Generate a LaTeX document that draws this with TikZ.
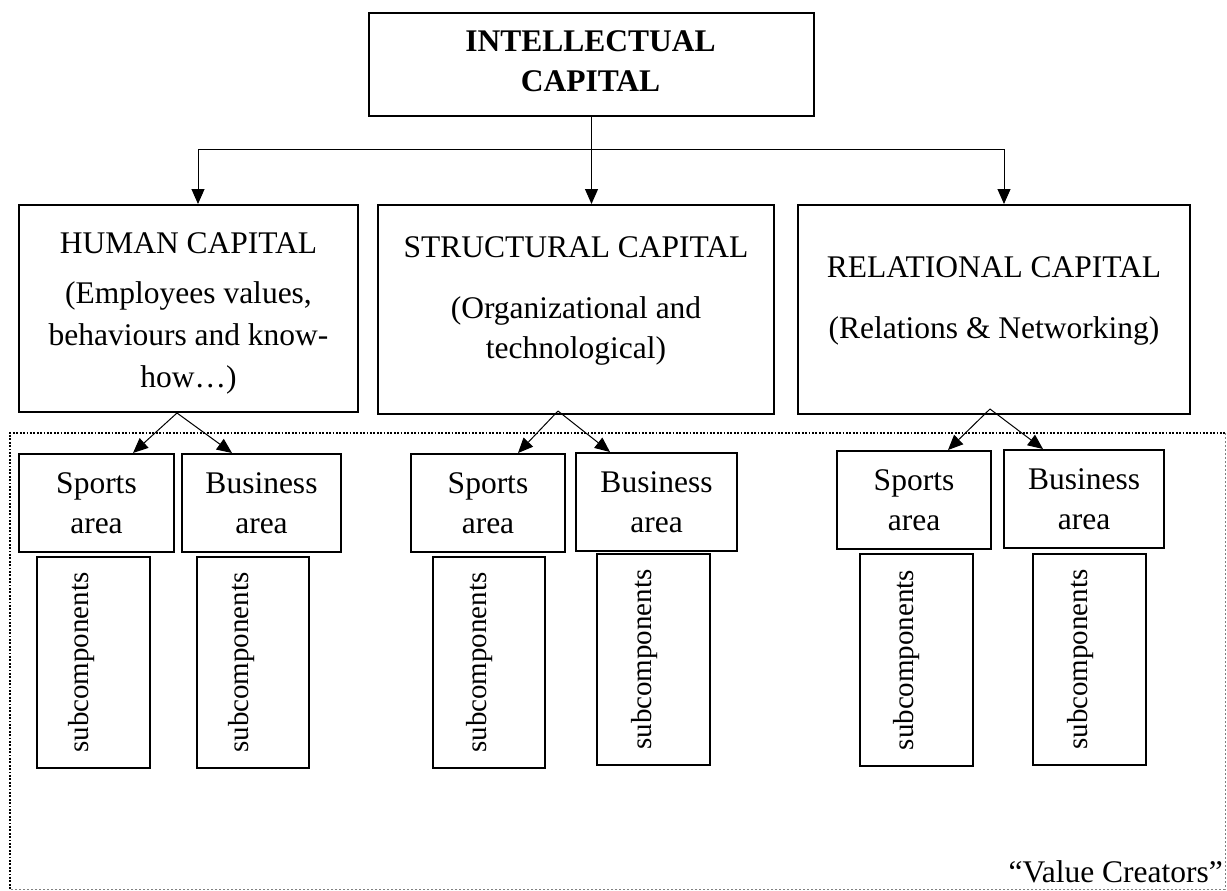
\documentclass[tikz,border=0pt]{standalone}
\usepackage{fontspec}
\setmainfont{Liberation Serif}
\usetikzlibrary{arrows.meta}
\begin{document}
\begin{tikzpicture}[x=1pt,y=-1pt,
  box/.style 2 args={draw, line width=2pt, inner sep=0pt, minimum width=#1, minimum height=#2},
  txt/.style={font=\fontsize{31.5}{40}\selectfont, inner sep=0pt, anchor=base},
  btxt/.style={font=\fontsize{31.5}{40}\selectfont\bfseries, inner sep=0pt, anchor=base},
  areatxt/.style={font=\fontsize{31.5}{40}\selectfont, align=center},
  subtxt/.style={font=\fontsize{29}{35}\selectfont, inner sep=0pt, rotate=90},
  conn/.style={line width=1pt, -{Triangle[length=15pt,width=13pt]}},
  plain/.style={line width=1pt},
  frameblack/.style={line width=1.8pt, dash pattern=on 1.8pt off 1.6pt},
  framegray/.style={line width=0.8pt, gray, dash pattern=on 2pt off 2pt}]
\useasboundingbox (0,0) rectangle (1227,891);

% dotted frame of the "Value Creators" area
\coordinate (ftl) at (10,433);
\coordinate (ftr) at (1225,433);
\coordinate (fbl) at (10,889);
\coordinate (fbr) at (1225,889);
\draw[frameblack] (fbl) -- (ftl) -- (ftr);
\draw[framegray] (ftr) -- (fbr) -- (fbl);

% top box
\node[box={445pt}{103pt}] (ic) at (591.5,64.5) {};
\node[btxt] (ic1) at (590.5,52) {INTELLECTUAL};
\node[btxt] (ic2) at (590.5,92) {CAPITAL};

% main capital boxes
\node[box={339pt}{207pt}] (hc) at (188.5,308.5) {};
\node[box={396pt}{209pt}] (sc) at (576,309.5) {};
\node[box={392pt}{209pt}] (rc) at (994,309.5) {};

\node[txt] (hc1) at (188.5,253) {HUMAN CAPITAL};
\node[txt] (hc2) at (188.5,303) {(Employees values,};
\node[txt] (hc3) at (188.5,345) {behaviours and know-};
\node[txt] (hc4) at (188.5,387) {how…)};

\node[txt] (sc1) at (576,257) {STRUCTURAL CAPITAL};
\node[txt] (sc2) at (576,318) {(Organizational and};
\node[txt] (sc3) at (576,358) {technological)};

\node[txt] (rc1) at (994,277) {RELATIONAL CAPITAL};
\node[txt] (rc2) at (994,338) {(Relations \& Networking)};

% area boxes
\node[box={155pt}{98pt}, areatxt] (sp1) at (96.5,503) {Sports\\area};
\node[box={159pt}{98pt}, areatxt] (bu1) at (261.5,503) {Business\\area};
\node[box={154pt}{98pt}, areatxt] (sp2) at (488,503) {Sports\\area};
\node[box={161pt}{98pt}, areatxt] (bu2) at (656.5,502) {Business\\area};
\node[box={154pt}{98pt}, areatxt] (sp3) at (914,500) {Sports\\area};
\node[box={160pt}{98pt}, areatxt] (bu3) at (1084,499) {Business\\area};

% subcomponent boxes
\node[box={113pt}{211pt}] (ss1) at (93.5,662.5) {};
\node[box={112pt}{211pt}] (bs1) at (253,662.5) {};
\node[box={112pt}{211pt}] (ss2) at (489,662.5) {};
\node[box={113pt}{211pt}] (bs2) at (653.5,659.5) {};
\node[box={113pt}{212pt}] (ss3) at (916.5,660) {};
\node[box={113pt}{211pt}] (bs3) at (1089.5,659.5) {};

\node[subtxt] (ss1t) at ([xshift=-12pt]ss1.center) {subcomponents};
\node[subtxt] (bs1t) at ([xshift=-11pt]bs1.center) {subcomponents};
\node[subtxt] (ss2t) at ([xshift=-9pt]ss2.center) {subcomponents};
\node[subtxt] (bs2t) at ([xshift=-9pt]bs2.center) {subcomponents};
\node[subtxt] (ss3t) at ([xshift=-10pt]ss3.center) {subcomponents};
\node[subtxt] (bs3t) at ([xshift=-9pt]bs3.center) {subcomponents};

% label
\node[txt, anchor=base east] (vc) at (1223,882) {“Value Creators”};

% top connectors
\coordinate (j1) at (198,149);
\coordinate (j3) at (1004,149);
\draw[plain] (j1) -- (j3);
\draw[conn] (ic.south) -- (ic.south |- sc.north);
\draw[conn] (j1) -- (j1 |- hc.north);
\draw[conn] (j3) -- (j3 |- rc.north);

% lower connectors
\coordinate (o1) at (177,413);
\coordinate (o2) at (558,411);
\coordinate (o3) at (990,409);
\draw[conn] (o1) -- (133,0 |- sp1.north);
\draw[conn] (o1) -- (232,0 |- bu1.north);
\draw[conn] (o2) -- (518,0 |- sp2.north);
\draw[conn] (o2) -- (610,0 |- bu2.north);
\draw[conn] (o3) -- (948,0 |- sp3.north);
\draw[conn] (o3) -- (1043,0 |- bu3.north);
\end{tikzpicture}
\end{document}
